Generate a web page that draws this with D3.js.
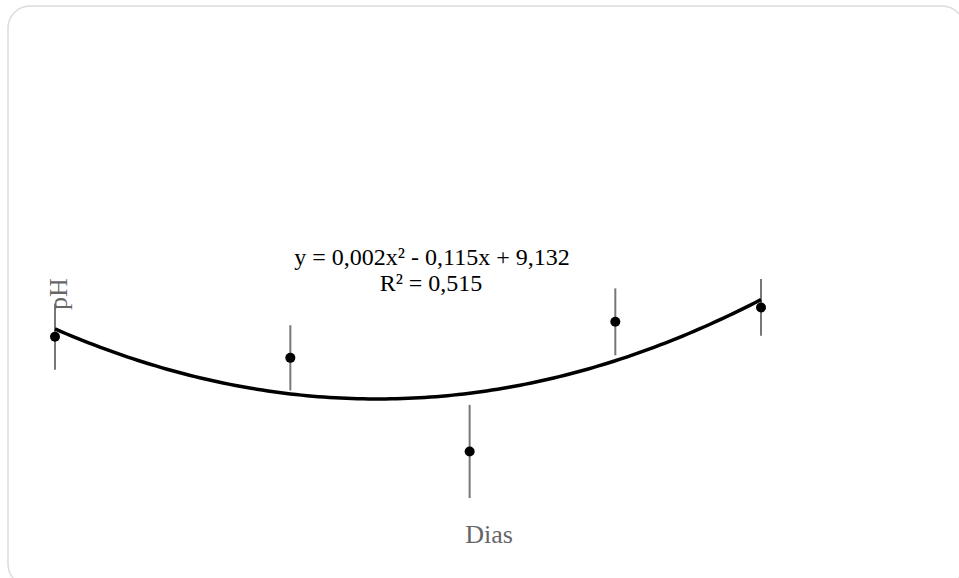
<!DOCTYPE html>
<html>
<head>
<meta charset="utf-8">
<script src="https://cdn.jsdelivr.net/npm/d3@7/dist/d3.min.js"></script>
<style>
  html, body { margin: 0; padding: 0; background: #fff; }
  svg { display: block; }
  text { font-family: "Liberation Serif", "Times New Roman", serif; }
</style>
</head>
<body>
<script>
// pH measured over storage time (days), mean ± deviation
const days = [0, 21, 37, 50, 63];
const phMean = [8.95, 8.45, 6.24, 9.30, 9.64];
const phErr = [0.78, 0.77, 1.10, 0.79, 0.67];

// Quadratic trend fitted to the means
const fitCoef = [0.002, -0.115, 9.132]; // a, b, c for a*x^2 + b*x + c
const fitLabel = ["y = 0,002x² - 0,115x + 9,132", "R² = 0,515"];
const xTitle = "Dias";
const yTitle = "pH";

const W = 959, H = 578;
const svg = d3.select("body").append("svg").attr("width", W).attr("height", H);

// card frame
svg.append("rect")
  .attr("x", 8).attr("y", 6)
  .attr("width", 956).attr("height", 580)
  .attr("rx", 22).attr("ry", 22)
  .attr("fill", "#fff")
  .attr("stroke", "#dcdcdc")
  .attr("stroke-width", 1.5);

const x = d3.scaleLinear().domain([0, 63]).range([55, 761]);
const y = d3.scaleLinear().domain([5, 10.5]).range([504, 271]);

const data = days.map((d, i) => ({ day: d, ph: phMean[i], err: phErr[i] }));

// error bars
svg.append("g").selectAll("line")
  .data(data).join("line")
  .attr("x1", d => x(d.day)).attr("x2", d => x(d.day))
  .attr("y1", d => y(d.ph + d.err)).attr("y2", d => y(d.ph - d.err))
  .attr("stroke", "#777").attr("stroke-width", 2);

// trend curve
const fit = t => fitCoef[0] * t * t + fitCoef[1] * t + fitCoef[2];
const curvePts = d3.range(0, 63.01, 0.5).map(t => [t, fit(t)]);
svg.append("path")
  .datum(curvePts)
  .attr("fill", "none")
  .attr("stroke", "#000")
  .attr("stroke-width", 3.5)
  .attr("d", d3.line().x(p => x(p[0])).y(p => y(p[1])));

// means
svg.append("g").selectAll("circle")
  .data(data).join("circle")
  .attr("cx", d => x(d.day)).attr("cy", d => y(d.ph))
  .attr("r", 5).attr("fill", "#000");

// equation
svg.append("text")
  .attr("x", 432).attr("y", 265)
  .attr("text-anchor", "middle")
  .attr("font-size", 24).attr("fill", "#000")
  .text(fitLabel[0]);
svg.append("text")
  .attr("x", 431).attr("y", 291)
  .attr("text-anchor", "middle")
  .attr("font-size", 24).attr("fill", "#000")
  .text(fitLabel[1]);

// axis titles
svg.append("text")
  .attr("x", 489).attr("y", 543)
  .attr("text-anchor", "middle")
  .attr("font-size", 26).attr("fill", "#666")
  .text(xTitle);
svg.append("text")
  .attr("transform", "translate(67,294) rotate(-90)")
  .attr("text-anchor", "middle")
  .attr("font-size", 26).attr("fill", "#666")
  .text(yTitle);
</script>
</body>
</html>
